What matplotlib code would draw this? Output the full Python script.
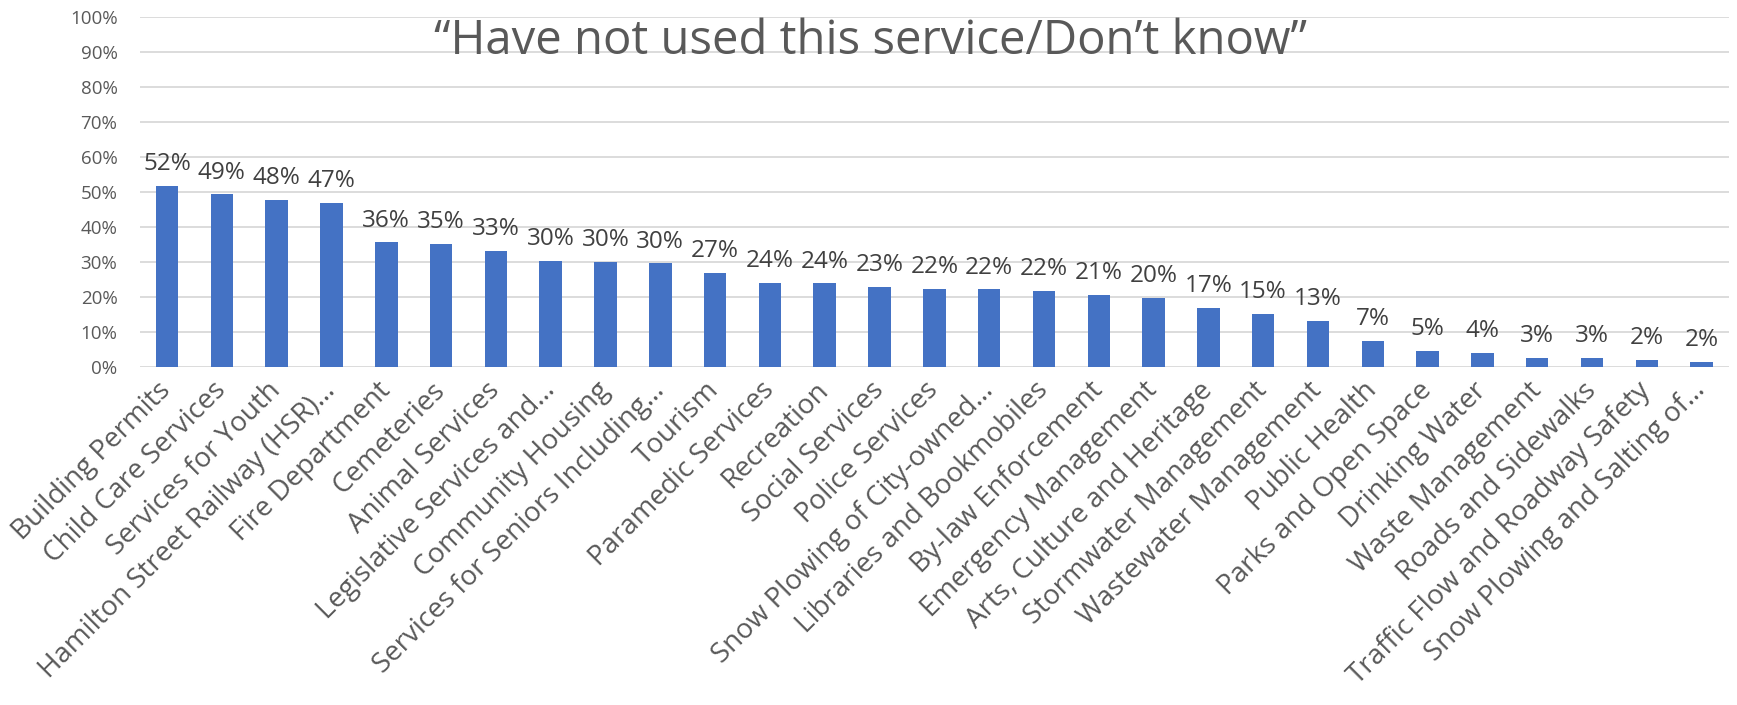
import matplotlib
matplotlib.use('Agg')
import matplotlib.pyplot as plt
import matplotlib.ticker as mtick

# ---- Data
services = [
    'Building Permits', 'Child Care Services', 'Services for Youth',
    'Hamilton Street Railway (HSR)…', 'Fire Department', 'Cemeteries',
    'Animal Services', 'Legislative Services and…', 'Community Housing',
    'Services for Seniors Including…', 'Tourism', 'Paramedic Services',
    'Recreation', 'Social Services', 'Police Services',
    'Snow Plowing of City-owned…', 'Libraries and Bookmobiles',
    'By-law Enforcement', 'Emergency Management', 'Arts, Culture and Heritage',
    'Stormwater Management', 'Wastewater Management', 'Public Health',
    'Parks and Open Space', 'Drinking Water', 'Waste Management',
    'Roads and Sidewalks', 'Traffic Flow and Roadway Safety',
    'Snow Plowing and Salting of…',
]
pct_not_used = [
    51.8, 49.3, 47.8, 46.8, 35.6, 35.2, 33.2, 30.3, 30.0, 29.6,
    27.0, 24.1, 23.9, 22.9, 22.3, 22.2, 21.7, 20.7, 19.8, 17.0,
    15.1, 13.1, 7.4, 4.6, 4.1, 2.6, 2.6, 2.1, 1.5,
]
y_ticks = list(range(0, 101, 10))

title = '\u201cHave not used this service/Don\u2019t know\u201d'

bar_color = '#4472C4'
grid_color = '#D9D9D9'
text_gray = '#595959'
label_gray = '#404040'

plt.rcParams['font.family'] = ['Open Sans', 'DejaVu Sans']

fig = plt.figure(figsize=(17.37, 7.05), dpi=100)
ax = fig.add_axes([0.0804, 0.4794, 0.9150, 0.4965])

x = list(range(len(services)))
bars = ax.bar(x, pct_not_used, width=0.41, color=bar_color, zorder=3)

# Data labels
for b, v in zip(bars, pct_not_used):
    ax.annotate(f'{v:.0f}%', (b.get_x() + b.get_width() / 2, v),
                xytext=(0, 7), textcoords='offset points',
                ha='center', va='bottom', fontsize=17.5, color=label_gray)

# Axis configuration
ax.set_xlim(-0.5, len(services) - 0.5)
ax.set_ylim(0, 100)
ax.set_yticks(y_ticks)
ax.yaxis.set_major_formatter(mtick.PercentFormatter(decimals=0))
ax.grid(axis='y', color=grid_color, linewidth=1.3, zorder=0)
for s in ax.spines.values():
    s.set_visible(False)
ax.tick_params(axis='both', length=0, colors=text_gray)
ax.tick_params(axis='y', labelsize=13.5, pad=16)

ax.set_xticks(x)
ax.set_xticklabels(services, rotation=45, ha='right', va='center',
                   rotation_mode='anchor', fontsize=20, color=text_gray)
ax.tick_params(axis='x', pad=14)

fig.text(0.5014, 0.924, title, ha='center', va='baseline',
         fontsize=34, color=text_gray)

fig.savefig('out.png', dpi=100)
